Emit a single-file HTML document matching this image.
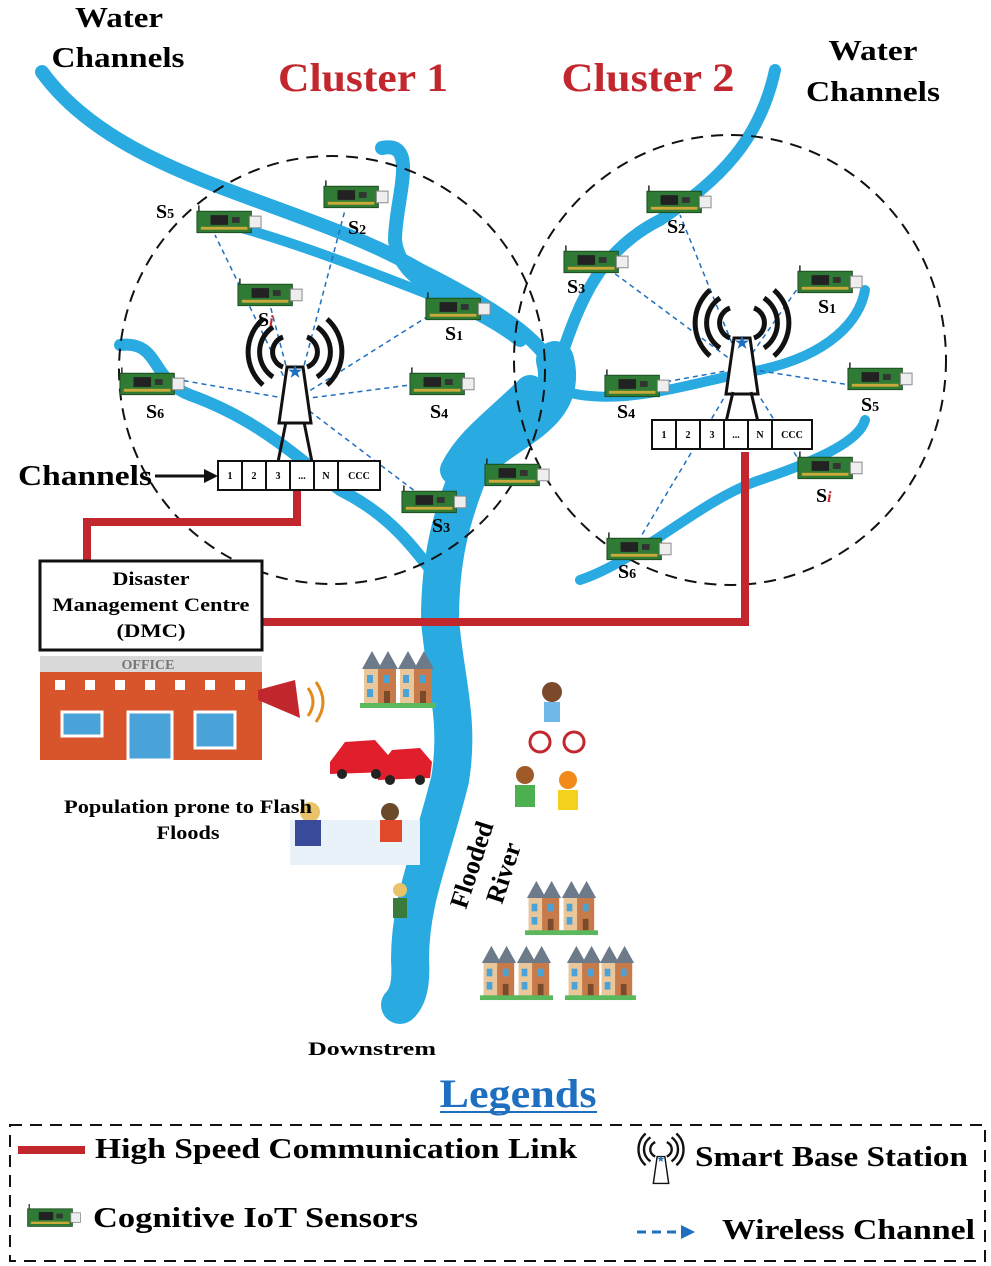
<!DOCTYPE html>
<html><head><meta charset="utf-8"><style>
html,body{margin:0;padding:0;background:#fff;}
svg{display:block;}
text{font-family:"Liberation Serif",serif;font-weight:bold;}
</style></head><body>
<svg width="991" height="1266" viewBox="0 0 991 1266" xmlns="http://www.w3.org/2000/svg">
<defs>
<symbol id="sen" viewBox="0 0 70 30">
<line x1="4" y1="8" x2="4" y2="0" stroke="#222" stroke-width="1.5"/>
<rect x="2" y="6" width="56" height="22" fill="#2f7a34" stroke="#1b4d1f"/>
<rect x="16" y="10" width="18" height="10" fill="#222"/>
<rect x="38" y="12" width="8" height="6" fill="#333"/>
<rect x="6" y="22" width="48" height="3" fill="#c9a93a"/>
<rect x="56" y="11" width="12" height="12" fill="#eee" stroke="#888"/>
</symbol>
<symbol id="tow" viewBox="0 0 100 110">
<g fill="none" stroke="#111" stroke-width="5">
<path d="M38 22 A16 16 0 0 0 38 52"/><path d="M62 22 A16 16 0 0 1 62 52"/>
<path d="M28 12 A30 30 0 0 0 28 62"/><path d="M72 12 A30 30 0 0 1 72 62"/>
<path d="M18 4 A44 44 0 0 0 18 70"/><path d="M82 4 A44 44 0 0 1 82 70"/>
</g>
<path d="M42 52 L58 52 L66 108 L34 108 Z" fill="#fff" stroke="#111" stroke-width="3"/>
<text x="50" y="62" font-size="16" fill="#1f6fc0" text-anchor="middle">★</text>
</symbol>
<symbol id="house" viewBox="0 0 40 60">
<path d="M2 20 L12 2 L22 20 Z" fill="#6d7a8a"/><path d="M18 20 L28 2 L38 20Z" fill="#6d7a8a"/>
<rect x="4" y="20" width="32" height="36" fill="#c77b4a"/><rect x="4" y="20" width="14" height="36" fill="#e9c79a"/>
<rect x="7" y="26" width="6" height="8" fill="#4aa3d8"/><rect x="24" y="26" width="6" height="8" fill="#4aa3d8"/>
<rect x="7" y="40" width="6" height="8" fill="#4aa3d8"/><rect x="24" y="42" width="6" height="12" fill="#7a4a2a"/>
<rect x="0" y="54" width="40" height="5" fill="#5cb85c"/>
</symbol>
</defs>

<!-- rivers -->
<g fill="none" stroke="#29abe2" stroke-linecap="round">
<path d="M42 72 C120 180 300 200 420 270 C500 310 540 340 555 370" stroke-width="14"/>
<path d="M382 148 C420 140 395 200 395 240 C400 290 470 300 520 340" stroke-width="14"/>
<path d="M120 345 C160 340 150 380 190 395 C260 420 300 460 340 490 C400 520 420 560 440 580" stroke-width="12"/>
<path d="M210 220 C300 240 440 300 520 330" stroke-width="10"/>
<path d="M775 70 C760 140 720 180 660 220 C600 250 580 300 560 360" stroke-width="12"/>
<path d="M560 390 C620 410 700 380 760 370 C830 355 860 320 865 290" stroke-width="10"/>
<path d="M580 580 C640 560 700 500 760 480 C820 460 860 440 865 420" stroke-width="10"/>
<path d="M555 360 C570 420 500 430 470 470 C450 520 440 560 440 620 C445 680 460 720 450 780 C430 860 410 900 410 960 C412 990 405 1000 400 1005" stroke-width="38"/>
<path d="M530 390 C500 420 470 440 455 470" stroke-width="30"/>
</g>

<!-- clusters -->
<ellipse cx="332" cy="370" rx="213" ry="214" fill="none" stroke="#111" stroke-width="2" stroke-dasharray="12,8"/>
<ellipse cx="730" cy="360" rx="216" ry="225" fill="none" stroke="#111" stroke-width="2" stroke-dasharray="12,8"/>

<!-- wireless dashed lines -->
<g stroke="#1f6fc0" stroke-width="1.5" stroke-dasharray="5,4">
<line x1="295" y1="400" x2="215" y2="235"/><line x1="295" y1="400" x2="345" y2="210"/>
<line x1="295" y1="400" x2="270" y2="305"/><line x1="295" y1="400" x2="430" y2="315"/>
<line x1="295" y1="400" x2="180" y2="380"/><line x1="295" y1="400" x2="410" y2="385"/>
<line x1="295" y1="400" x2="420" y2="495"/>
<line x1="742" y1="368" x2="680" y2="215"/><line x1="742" y1="368" x2="610" y2="270"/>
<line x1="742" y1="368" x2="800" y2="285"/><line x1="742" y1="368" x2="665" y2="382"/>
<line x1="742" y1="368" x2="850" y2="385"/><line x1="742" y1="368" x2="805" y2="470"/>
<line x1="742" y1="368" x2="640" y2="538"/>
</g>

<!-- red links -->
<path d="M297 490 L297 522 L87 522 L87 562" fill="none" stroke="#c1272d" stroke-width="8"/>
<path d="M262 622 L745 622 L745 452" fill="none" stroke="#c1272d" stroke-width="8"/>

<!-- towers -->
<use href="#tow" x="245" y="315" width="100" height="110"/>
<use href="#tow" x="692" y="286" width="100" height="110"/>
<line x1="286" y1="422" x2="278" y2="462" stroke="#111" stroke-width="3"/><line x1="304" y1="422" x2="312" y2="462" stroke="#111" stroke-width="3"/>
<line x1="733" y1="392" x2="726" y2="422" stroke="#111" stroke-width="3"/><line x1="751" y1="392" x2="758" y2="422" stroke="#111" stroke-width="3"/>

<!-- channel boxes -->
<g font-size="10" text-anchor="middle">
<rect x="218" y="461" width="162" height="29" fill="#fff" stroke="#111" stroke-width="2"/>
<g stroke="#111" stroke-width="2"><line x1="242" y1="461" x2="242" y2="490"/><line x1="266" y1="461" x2="266" y2="490"/><line x1="290" y1="461" x2="290" y2="490"/><line x1="314" y1="461" x2="314" y2="490"/><line x1="338" y1="461" x2="338" y2="490"/></g>
<text x="230" y="479">1</text><text x="254" y="479">2</text><text x="278" y="479">3</text><text x="302" y="479">...</text><text x="326" y="479">N</text><text x="359" y="479">CCC</text>
<rect x="652" y="420" width="160" height="29" fill="#fff" stroke="#111" stroke-width="2"/>
<g stroke="#111" stroke-width="2"><line x1="676" y1="420" x2="676" y2="449"/><line x1="700" y1="420" x2="700" y2="449"/><line x1="724" y1="420" x2="724" y2="449"/><line x1="748" y1="420" x2="748" y2="449"/><line x1="772" y1="420" x2="772" y2="449"/></g>
<text x="664" y="438">1</text><text x="688" y="438">2</text><text x="712" y="438">3</text><text x="736" y="438">...</text><text x="760" y="438">N</text><text x="792" y="438">CCC</text>
</g>
<text x="18" y="485" font-size="28" textLength="134" lengthAdjust="spacingAndGlyphs">Channels</text>
<line x1="155" y1="476" x2="208" y2="476" stroke="#111" stroke-width="3"/><path d="M218 476 L204 469 L204 483Z" fill="#111"/>

<!-- sensors -->
<g>
<use href="#sen" x="195" y="205" width="68" height="30"/>
<use href="#sen" x="322" y="180" width="68" height="30"/>
<use href="#sen" x="236" y="278" width="68" height="30"/>
<use href="#sen" x="424" y="292" width="68" height="30"/>
<use href="#sen" x="118" y="367" width="68" height="30"/>
<use href="#sen" x="408" y="367" width="68" height="30"/>
<use href="#sen" x="400" y="485" width="68" height="30"/>
<use href="#sen" x="483" y="458" width="68" height="30"/>
<use href="#sen" x="645" y="185" width="68" height="30"/>
<use href="#sen" x="562" y="245" width="68" height="30"/>
<use href="#sen" x="796" y="265" width="68" height="30"/>
<use href="#sen" x="603" y="369" width="68" height="30"/>
<use href="#sen" x="846" y="362" width="68" height="30"/>
<use href="#sen" x="796" y="451" width="68" height="30"/>
<use href="#sen" x="605" y="532" width="68" height="30"/>
</g>
<g font-size="20">
<text x="156" y="218">S<tspan font-size="14">5</tspan></text>
<text x="348" y="234">S<tspan font-size="14">2</tspan></text>
<text x="258" y="326">S<tspan fill="#c1272d" font-style="italic" font-size="16">i</tspan></text>
<text x="445" y="340">S<tspan font-size="14">1</tspan></text>
<text x="146" y="418">S<tspan font-size="14">6</tspan></text>
<text x="430" y="418">S<tspan font-size="14">4</tspan></text>
<text x="432" y="532">S<tspan font-size="14">3</tspan></text>
<text x="667" y="233">S<tspan font-size="14">2</tspan></text>
<text x="567" y="293">S<tspan font-size="14">3</tspan></text>
<text x="818" y="313">S<tspan font-size="14">1</tspan></text>
<text x="617" y="418">S<tspan font-size="14">4</tspan></text>
<text x="861" y="411">S<tspan font-size="14">5</tspan></text>
<text x="816" y="502">S<tspan fill="#c1272d" font-style="italic" font-size="16">i</tspan></text>
<text x="618" y="578">S<tspan font-size="14">6</tspan></text>
</g>

<!-- headings -->
<g font-size="28" text-anchor="middle">
<text x="119" y="27" textLength="88" lengthAdjust="spacingAndGlyphs">Water</text><text x="118" y="67" textLength="133" lengthAdjust="spacingAndGlyphs">Channels</text>
<text x="873" y="60" textLength="89" lengthAdjust="spacingAndGlyphs">Water</text><text x="873" y="101" textLength="134" lengthAdjust="spacingAndGlyphs">Channels</text>
</g>
<text x="363" y="91" font-size="40" fill="#c1272d" text-anchor="middle" textLength="170" lengthAdjust="spacingAndGlyphs">Cluster 1</text>
<text x="648" y="91" font-size="40" fill="#c1272d" text-anchor="middle" textLength="173" lengthAdjust="spacingAndGlyphs">Cluster 2</text>

<!-- DMC -->
<rect x="40" y="561" width="222" height="89" fill="#fff" stroke="#111" stroke-width="3"/>
<g font-size="19" text-anchor="middle"><text x="151" y="585" textLength="77" lengthAdjust="spacingAndGlyphs">Disaster</text><text x="151" y="611" textLength="197" lengthAdjust="spacingAndGlyphs">Management Centre</text><text x="151" y="637" textLength="69" lengthAdjust="spacingAndGlyphs">(DMC)</text></g>
<!-- office -->
<rect x="40" y="656" width="222" height="16" fill="#d9d9d9"/>
<text x="148" y="669" font-size="14" fill="#777" text-anchor="middle" font-family="Liberation Sans">OFFICE</text>
<rect x="40" y="672" width="222" height="88" fill="#d8542a"/>
<g fill="#fff"><rect x="55" y="680" width="10" height="10"/><rect x="85" y="680" width="10" height="10"/><rect x="115" y="680" width="10" height="10"/><rect x="145" y="680" width="10" height="10"/><rect x="175" y="680" width="10" height="10"/><rect x="205" y="680" width="10" height="10"/><rect x="235" y="680" width="10" height="10"/></g>
<rect x="62" y="712" width="40" height="24" fill="#4aa3d8" stroke="#fff" stroke-width="3"/>
<rect x="128" y="712" width="44" height="48" fill="#4aa3d8" stroke="#fff" stroke-width="3"/>
<rect x="195" y="712" width="40" height="36" fill="#4aa3d8" stroke="#fff" stroke-width="3"/>
<path d="M258 690 L295 680 L300 718 L258 700Z" fill="#c1272d"/>
<path d="M308 688 Q318 702 308 716 M316 682 Q330 702 316 722" fill="none" stroke="#e38b1a" stroke-width="3"/>

<!-- houses & cars -->
<use href="#house" x="360" y="640" width="40" height="78"/>
<use href="#house" x="396" y="640" width="40" height="78"/>
<use href="#house" x="525" y="870" width="38" height="75"/>
<use href="#house" x="560" y="870" width="38" height="75"/>
<use href="#house" x="480" y="935" width="38" height="75"/>
<use href="#house" x="515" y="935" width="38" height="75"/>
<use href="#house" x="565" y="935" width="38" height="75"/>
<use href="#house" x="598" y="935" width="38" height="75"/>
<g fill="#e01e2c"><path d="M330 762 L345 742 L375 740 L388 755 L388 772 L330 774Z"/><path d="M378 768 L392 750 L420 748 L432 762 L430 778 L378 780Z"/></g>
<g fill="#222"><circle cx="342" cy="774" r="5"/><circle cx="376" cy="774" r="5"/><circle cx="390" cy="780" r="5"/><circle cx="420" cy="780" r="5"/></g>
<!-- people -->
<circle cx="552" cy="692" r="10" fill="#7a4a2a"/><rect x="544" y="702" width="16" height="20" fill="#6fb8e8"/>
<circle cx="540" cy="742" r="10" fill="none" stroke="#c1272d" stroke-width="3"/><circle cx="574" cy="742" r="10" fill="none" stroke="#c1272d" stroke-width="3"/>
<circle cx="525" cy="775" r="9" fill="#a05a2a"/><rect x="515" y="785" width="20" height="22" fill="#4caf50"/>
<circle cx="568" cy="780" r="9" fill="#f08a1a"/><rect x="558" y="790" width="20" height="20" fill="#f2d21a"/>
<rect x="290" y="820" width="130" height="45" fill="#e8f2f8"/>
<circle cx="310" cy="812" r="10" fill="#e8c36a"/><rect x="295" y="820" width="26" height="26" fill="#3a4a9a"/>
<circle cx="390" cy="812" r="9" fill="#6a4a2a"/><rect x="380" y="820" width="22" height="22" fill="#e04a2a"/>
<circle cx="400" cy="890" r="7" fill="#e8c36a"/><rect x="393" y="898" width="14" height="20" fill="#3a7a3a"/>

<g font-size="19" text-anchor="middle"><text x="188" y="813" textLength="248" lengthAdjust="spacingAndGlyphs">Population prone to Flash</text><text x="188" y="839" textLength="63" lengthAdjust="spacingAndGlyphs">Floods</text>
<text x="372" y="1055" textLength="128" lengthAdjust="spacingAndGlyphs">Downstrem</text></g>
<text x="0" y="0" font-size="26" transform="translate(466,910) rotate(-72)">Flooded</text>
<text x="0" y="0" font-size="26" transform="translate(502,905) rotate(-72)">River</text>

<!-- legend -->
<text x="518" y="1107" font-size="40" fill="#1f6fc0" text-anchor="middle" textLength="157" lengthAdjust="spacingAndGlyphs">Legends</text>
<line x1="440" y1="1112" x2="597" y2="1112" stroke="#1f6fc0" stroke-width="2"/>
<rect x="10" y="1125" width="975" height="136" fill="none" stroke="#111" stroke-width="2" stroke-dasharray="12,8"/>
<line x1="18" y1="1150" x2="85" y2="1150" stroke="#c1272d" stroke-width="8"/>
<text x="95" y="1158" font-size="28" textLength="482" lengthAdjust="spacingAndGlyphs">High Speed Communication Link</text>
<use href="#sen" x="26" y="1203" width="56" height="26"/>
<text x="93" y="1227" font-size="28" textLength="325" lengthAdjust="spacingAndGlyphs">Cognitive IoT  Sensors</text>
<use href="#tow" x="637" y="1130" width="48" height="56"/>
<text x="695" y="1166" font-size="28" textLength="273" lengthAdjust="spacingAndGlyphs">Smart Base Station</text>
<line x1="637" y1="1232" x2="683" y2="1232" stroke="#1f6fc0" stroke-width="3" stroke-dasharray="9,6"/>
<path d="M695 1232 L681 1225 L681 1239Z" fill="#1f6fc0"/>
<text x="722" y="1239" font-size="28" textLength="253" lengthAdjust="spacingAndGlyphs">Wireless Channel</text>
</svg>
</body></html>
